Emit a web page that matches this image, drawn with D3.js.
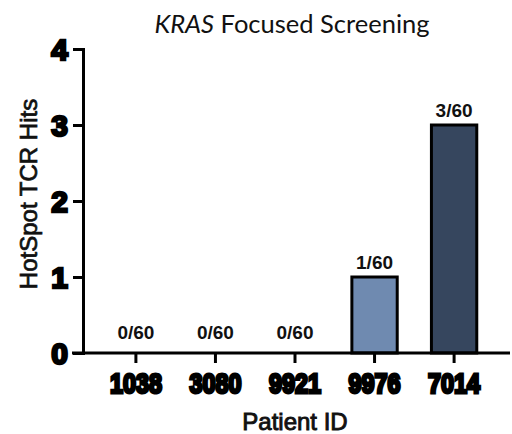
<!DOCTYPE html>
<html>
  <head>
    <meta charset="utf-8">
    <style>
      body { margin: 0; background: #fff; }
    </style>
  </head>
  <body>
    <script src="https://d3js.org/d3.v7.min.js"></script>
    <script>
      // data
      const patients = ['1038', '3080', '9921', '9976', '7014'];
      const hits = [0, 0, 0, 1, 3];
      const hitLabels = ['0/60', '0/60', '0/60', '1/60', '3/60'];
      const barColors = ['#6f8ab0', '#6f8ab0', '#6f8ab0', '#6f8ab0', '#36465e'];
      const yTicks = [0, 1, 2, 3, 4];

      const width = 512, height = 434;

      const svg = d3.select('body').append('svg')
        .attr('width', width)
        .attr('height', height);

      const x = d3.scaleBand()
        .domain(patients)
        .range([83, 507])
        .paddingInner(0.43)
        .paddingOuter(0.38);

      const y = d3.scaleLinear()
        .domain([0, 4])
        .range([353, 49]);

      // bars
      svg.append('g')
        .selectAll('rect')
        .data(patients)
        .join('rect')
        .attr('x', (d, i) => x(d))
        .attr('width', x.bandwidth())
        .attr('y', (d, i) => y(hits[i]))
        .attr('height', (d, i) => y(0) - y(hits[i]))
        .attr('fill', (d, i) => barColors[i])
        .attr('stroke', '#000')
        .attr('stroke-width', 3)
        .style('display', (d, i) => hits[i] > 0 ? null : 'none');

      // count labels
      svg.append('g')
        .selectAll('text')
        .data(patients)
        .join('text')
        .attr('x', d => x(d) + x.bandwidth() / 2)
        .attr('y', (d, i) => y(hits[i]) - (hits[i] > 0 ? 8 : 14))
        .attr('text-anchor', 'middle')
        .attr('font-family', 'Liberation Sans, Arial, sans-serif')
        .attr('font-weight', 'bold')
        .attr('font-size', 19)
        .attr('fill', '#111')
        .text((d, i) => hitLabels[i]);

      // y axis
      const yAxis = svg.append('g')
        .attr('transform', 'translate(83,0)')
        .call(d3.axisLeft(y).tickValues(yTicks).tickSize(10).tickSizeOuter(10).tickPadding(5).tickFormat(d3.format('d')));
      yAxis.select('.domain').attr('stroke-width', 3);
      yAxis.selectAll('.tick line').attr('stroke-width', 3);
      yAxis.selectAll('.tick text')
        .attr('font-family', 'Liberation Sans, Arial, sans-serif')
        .attr('font-weight', 'bold')
        .attr('font-size', 30)
        .attr('fill', '#000')
        .attr('stroke', '#000')
        .attr('stroke-width', 2.5)
        .attr('dy', '0.36em');

      // x axis
      const xAxis = svg.append('g')
        .attr('transform', 'translate(0,353)')
        .call(d3.axisBottom(x).tickSize(10).tickSizeOuter(0).tickPadding(10));
      xAxis.select('.domain').attr('stroke-width', 3).attr('d', 'M72,0H510');
      xAxis.selectAll('.tick line').attr('stroke-width', 3);
      xAxis.selectAll('.tick text')
        .attr('font-family', 'Liberation Sans, Arial, sans-serif')
        .attr('font-weight', 'bold')
        .attr('font-size', 28)
        .attr('fill', '#000')
        .attr('stroke', '#000')
        .attr('stroke-width', 3)
        .attr('textLength', 52)
        .attr('lengthAdjust', 'spacingAndGlyphs');

      // title
      const title = svg.append('text')
        .attr('x', 292)
        .attr('y', 33)
        .attr('text-anchor', 'middle')
        .attr('font-family', 'Lato, sans-serif')
        .attr('font-size', 25.5)
        .attr('fill', '#111');
      title.append('tspan').attr('font-style', 'italic').text('KRAS');
      title.append('tspan').text(' Focused Screening');

      // axis titles
      svg.append('text')
        .attr('transform', 'translate(37,194) rotate(-90)')
        .attr('text-anchor', 'middle')
        .attr('font-family', 'Liberation Sans, Arial, sans-serif')
        .attr('font-size', 24)
        .attr('fill', '#111')
        .attr('stroke', '#111')
        .attr('stroke-width', 0.7)
        .text('HotSpot TCR Hits');

      svg.append('text')
        .attr('x', 295)
        .attr('y', 430)
        .attr('text-anchor', 'middle')
        .attr('font-family', 'Liberation Sans, Arial, sans-serif')
        .attr('font-size', 24)
        .attr('fill', '#111')
        .attr('stroke', '#111')
        .attr('stroke-width', 0.9)
        .text('Patient ID');
    </script>
  </body>
</html>
